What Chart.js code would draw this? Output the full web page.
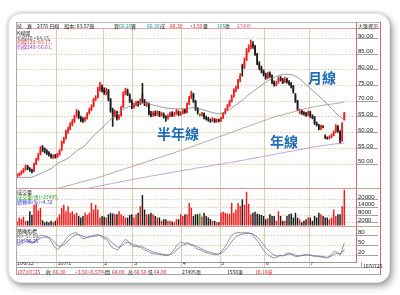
<!DOCTYPE html>
<html>
<head>
<meta charset="utf-8">
<script src="https://cdn.jsdelivr.net/npm/chart.js@4.4.0/dist/chart.umd.min.js"></script>
<style>
  body { margin: 0; width: 400px; height: 295px; background: #fff; position: relative; overflow: hidden;
         font-family: "Noto Sans CJK TC", "Noto Sans", sans-serif; }
  .card { position: absolute; left: 8px; top: 13px; width: 382px; height: 270px; background: #fff;
          border-radius: 13px; border: 1px solid #e4e4e4; box-sizing: border-box;
          box-shadow: 0 0 4px rgba(0,0,0,.25), 3px 4px 7px rgba(0,0,0,.3); }
  canvas { position: absolute; left: 0; top: 0; }
  .t { position: absolute; font-size: 5px; line-height: 5px; white-space: pre; color: #222; }
  .h { position: absolute; height: 1px; }
  .v { position: absolute; width: 1px; }
  .big { position: absolute; font-size: 14px; line-height: 14px; font-weight: bold; color: #1d6cb6; white-space: pre; }
</style>
</head>
<body>
<div class="card"></div>
<canvas id="c" width="400" height="295"></canvas>

<!-- frame -->
<div class="h" style="left:16px;top:22px;width:365px;background:#b8b8b8"></div>
<div class="h" style="left:16px;top:28px;width:365px;background:#e3a6a6"></div>
<div class="h" style="left:16px;top:188px;width:365px;background:#d59a9a"></div>
<div class="h" style="left:16px;top:226px;width:365px;background:#d59a9a"></div>
<div class="h" style="left:16px;top:267px;width:365px;background:#a8a8a8"></div>
<div class="h" style="left:16px;top:274px;width:365px;background:#a8a8a8"></div>
<div class="v" style="left:16px;top:22px;height:253px;background:#a8a8a8"></div>
<div class="v" style="left:380px;top:22px;height:253px;background:#d46a6a"></div>
<div class="v" style="left:356px;top:22px;height:7px;background:#d46a6a"></div>
<div class="v" style="left:361px;top:262px;height:5px;background:#a8a8a8"></div>

<!-- header row -->
<div class="t" style="left:17px;top:23px">技　嘉　2376 日線　股本: 63.57億</div>
<div class="t" style="left:114px;top:23px">買</div>
<div class="t" style="left:119px;top:23px;color:#1a9e9e">66.20</div>
<div class="t" style="left:131px;top:23px">賣</div>
<div class="t" style="left:147px;top:23px;color:#1a9e9e">66.30</div>
<div class="t" style="left:160px;top:23px">成</div>
<div class="t" style="left:170px;top:23px;color:#e02020">66.30</div>
<div class="t" style="left:190px;top:23px;color:#e02020">+3.50</div>
<div class="t" style="left:203px;top:23px">量</div>
<div class="t" style="left:217px;top:23px;color:#1a9e9e">165</div>
<div class="t" style="left:225px;top:23px">張</div>
<div class="t" style="left:237px;top:23px;color:#d060a0">27495</div>
<div class="t" style="left:358px;top:23px">大盤資訊</div>

<!-- price legend -->
<div class="t" style="left:17px;top:30px">K線圖</div>
<div class="t" style="left:17px;top:34.5px;color:#555">均線20 =64.15,</div>
<div class="t" style="left:17px;top:39px;color:#d03a3a">均線120=69.77,</div>
<div class="t" style="left:17px;top:43.5px;color:#a040c0">均線240=56.61,</div>

<!-- volume legend -->
<div class="t" style="left:17px;top:189px">成交量</div>
<div class="t" style="left:17px;top:194px;color:#20a020">成交量(張)=27495,</div>
<div class="t" style="left:17px;top:199px;color:#3a3ad0">週轉率(%)=4.32</div>

<!-- KD legend -->
<div class="t" style="left:17px;top:227.5px">隨機指標</div>
<div class="t" style="left:17px;top:232.5px;color:#555">K9=57.80,</div>
<div class="t" style="left:17px;top:237.5px;color:#3a3ad0">D9=38.25</div>

<!-- date box and info row -->
<div class="t" style="left:363px;top:263px">1070725</div>
<div class="t" style="left:17px;top:268.5px;color:#e02020">107/07/25</div>
<div class="t" style="left:46px;top:268.5px">收</div>
<div class="t" style="left:53px;top:268.5px;color:#e02020">66.30</div>
<div class="t" style="left:75px;top:268.5px;color:#e02020">+3.50</div>
<div class="t" style="left:88px;top:268.5px;color:#e02020">+5.57%</div>
<div class="t" style="left:105px;top:268.5px">開</div>
<div class="t" style="left:112px;top:268.5px;color:#e02020">64.00</div>
<div class="t" style="left:128px;top:268.5px">高</div>
<div class="t" style="left:134px;top:268.5px;color:#e02020">66.50</div>
<div class="t" style="left:148px;top:268.5px">低</div>
<div class="t" style="left:154px;top:268.5px;color:#e02020">64.00</div>
<div class="t" style="left:182px;top:268.5px">27495張</div>
<div class="t" style="left:227px;top:268.5px">1558筆</div>
<div class="t" style="left:255px;top:268.5px;color:#e02020">18.16億</div>

<!-- annotations -->
<div class="big" style="left:308px;top:70px">月線</div>
<div class="big" style="left:157px;top:126px">半年線</div>
<div class="big" style="left:270px;top:134px">年線</div>

<script>
const opens = [46.0,46.6,46.9,47.4,48.3,49.3,48.6,48.1,47.8,50.1,
  51.6,53.2,55.3,54.8,54.2,53.6,53.0,52.2,52.8,52.4,
  53.0,54.5,57.2,58.2,60.5,61.2,62.8,63.6,65.2,66.6,
  64.9,64.2,63.9,64.6,66.2,67.4,68.5,70.8,71.2,73.9,
  74.6,73.6,72.6,73.4,70.6,67.2,65.3,66.5,64.6,65.4,
  68.3,72.6,73.5,72.0,70.1,68.2,68.9,69.6,69.2,72.5,
  70.1,68.8,69.2,66.2,65.6,66.3,65.9,66.4,65.6,66.0,
  65.0,64.7,65.5,66.3,65.6,66.1,66.7,65.9,66.3,67.1,
  66.6,69.2,71.2,72.3,70.0,67.6,65.6,65.7,66.0,64.9,
  64.6,64.0,63.9,64.2,63.7,64.0,63.9,64.7,66.1,67.3,
  68.6,70.0,71.6,73.6,74.2,76.6,81.2,80.7,83.2,86.2,
  87.1,88.2,87.4,85.0,82.2,80.6,79.6,78.6,77.6,78.9,
  78.1,76.0,75.3,76.0,77.3,76.9,76.2,77.0,76.2,75.6,
  74.8,72.0,70.0,66.3,66.9,66.3,66.0,65.7,66.5,65.3,
  64.8,63.0,62.4,61.3,62.0,59.0,58.4,58.2,58.7,59.2,
  60.3,62.0,60.4,57.6,64.0];
const closes = [46.5,46.8,47.5,48.2,49.2,48.5,48.0,47.6,50.0,51.5,
  53.0,55.0,54.6,54.0,53.5,53.0,52.3,52.6,52.3,53.0,
  54.2,57.0,58.0,60.3,61.0,62.6,63.5,65.0,66.8,64.8,
  64.0,63.8,64.5,66.0,67.2,68.3,70.5,71.0,73.8,74.5,
  73.5,72.8,73.6,70.5,67.0,65.5,66.6,64.5,65.2,68.0,
  72.5,73.5,72.2,70.0,68.0,68.8,69.5,69.0,70.2,70.0,
  69.0,69.3,66.0,65.5,66.2,65.8,66.5,65.5,66.0,65.0,
  64.6,65.4,66.2,65.5,66.0,66.8,65.8,66.2,67.0,66.5,
  69.0,71.0,72.5,70.0,67.5,66.3,65.6,66.0,64.8,64.5,
  64.0,63.8,64.3,63.6,64.0,63.8,64.6,66.0,67.2,68.5,
  69.8,71.5,73.5,74.0,76.5,78.0,80.5,83.0,86.0,87.0,
  88.0,87.5,85.0,82.0,80.5,79.5,78.5,77.5,78.8,78.0,
  76.0,75.2,75.8,77.2,76.8,76.0,77.0,76.2,75.5,74.6,
  73.0,70.0,67.5,66.8,66.2,66.0,65.6,66.4,65.2,64.8,
  63.0,62.5,61.2,62.0,61.8,58.5,58.2,58.6,59.2,60.2,
  62.0,60.5,57.5,62.8,66.3];
const highs = [46.9,47.2,47.9,48.6,49.8,49.6,48.9,48.4,50.3,51.9,
  53.4,55.6,55.9,55.2,54.6,54.0,53.3,53.0,53.1,53.4,
  54.6,57.4,58.6,60.8,61.8,63.2,64.2,65.6,67.4,67.0,
  65.3,64.8,65.0,66.4,67.8,68.9,71.0,71.8,74.5,76.0,
  75.2,74.3,74.2,73.8,70.9,67.8,67.2,66.9,65.8,68.4,
  73.0,74.2,73.9,72.4,70.5,69.4,70.1,70.0,70.8,75.7,
  70.6,69.8,69.5,66.8,66.7,66.9,67.0,66.8,66.5,66.3,
  65.4,65.8,66.6,66.7,66.5,67.4,67.0,66.7,67.5,67.4,
  69.5,71.6,73.2,72.6,70.3,68.0,66.0,66.5,66.3,65.3,
  64.9,64.4,64.8,64.5,64.4,64.3,65.0,66.4,67.7,69.0,
  70.3,72.0,74.0,74.8,77.0,78.8,81.8,83.8,86.8,88.0,
  89.5,89.0,87.8,85.3,82.6,81.2,80.0,79.0,79.3,79.4,
  78.4,76.5,76.3,77.8,77.9,77.3,77.6,77.4,76.6,76.0,
  75.1,72.5,70.3,67.5,67.3,66.7,66.5,66.9,66.8,65.7,
  65.2,63.4,62.7,62.4,62.3,59.3,58.7,59.0,59.6,60.6,
  62.6,62.3,60.7,63.2,66.5];
const lows = [45.8,46.2,46.6,47.2,48.0,48.2,47.7,47.2,47.6,49.8,
  51.2,52.9,54.0,53.5,53.0,52.5,51.9,51.8,51.9,52.1,
  52.8,54.3,56.6,57.9,59.8,60.9,62.2,63.2,64.9,64.4,
  63.5,63.3,63.6,64.3,65.9,67.0,68.2,70.2,71.0,73.2,
  72.9,72.2,72.0,70.1,66.5,62.0,64.9,64.0,64.2,65.2,
  68.0,72.0,71.8,69.6,67.6,67.8,68.5,68.4,68.9,69.6,
  68.6,68.3,65.6,65.0,65.2,65.4,65.5,65.1,65.2,64.6,
  63.6,64.3,65.1,65.1,65.2,65.8,65.4,65.5,66.0,66.1,
  66.3,68.9,70.8,69.6,67.1,65.9,65.2,65.3,64.4,64.0,
  63.6,63.3,63.5,63.2,63.3,63.4,63.6,64.5,65.9,67.0,
  68.3,69.7,71.3,73.0,73.9,76.2,78.0,80.4,82.9,85.6,
  86.6,86.8,84.6,81.6,80.0,79.0,78.0,77.0,77.2,77.6,
  75.6,74.8,74.9,75.7,76.4,75.6,75.9,75.8,75.1,74.2,
  72.6,69.6,67.0,66.0,65.8,65.6,65.2,65.4,64.8,64.4,
  62.6,62.1,60.9,61.0,61.5,58.1,57.9,58.0,58.4,59.0,
  60.0,60.1,56.6,57.2,64.0];
const volumes = [3200,6200,5000,6800,3200,3700,11000,8000,16000,17000,
  11500,13500,4000,2500,3000,2500,3700,2500,3700,6000,
  8600,13600,16000,11000,14800,9900,11000,8600,9900,7400,
  6200,7400,9900,8000,9900,17300,12300,16000,12300,6200,
  7400,6800,6200,8600,9900,9300,8600,8600,11000,8600,
  7400,6200,6200,8000,8600,6200,8600,9900,14800,23500,
  12300,8600,8600,9900,8600,7400,6200,6200,3700,4900,
  4900,3700,3700,3000,2500,4900,4900,8600,7400,8600,
  8600,17300,13600,7400,8600,8600,9300,7000,9900,7400,
  6200,5000,3700,3700,2500,2500,9900,10500,9900,9300,
  9000,17300,9900,12300,17300,15000,20200,16000,25900,16500,
  8600,9900,10500,9000,8600,8000,7400,4900,5500,8600,
  7400,7400,3700,11000,7400,3700,3700,7400,8600,9300,
  6200,9900,6200,4900,2500,3700,4900,6200,6200,3700,
  7400,6200,9900,8600,7400,6200,6200,4900,6200,12300,
  7400,8600,8600,14800,27495];
const ma20 = [45.7,45.7,45.7,45.7,45.8,45.8,45.8,45.8,46.1,46.4,
  46.7,47.0,47.3,47.6,47.9,48.2,48.5,49.0,49.6,50.2,
  50.6,50.9,51.2,51.5,51.9,52.4,53.0,53.6,54.2,54.7,
  55.0,55.4,56.0,56.7,57.5,58.3,59.0,59.7,60.3,60.9,
  61.5,62.2,62.9,63.6,64.3,64.9,65.5,66.0,66.5,67.0,
  67.4,67.8,68.1,68.4,68.7,68.9,69.1,69.2,69.3,69.3,
  69.3,69.3,69.2,69.0,68.8,68.6,68.5,68.3,68.1,68.0,
  67.9,67.8,67.7,67.7,67.6,67.6,67.6,67.6,67.6,67.7,
  67.7,67.8,67.9,68.0,67.9,67.8,67.6,67.4,67.2,67.0,
  66.8,66.6,66.4,66.2,66.1,66.0,66.1,66.3,66.6,67.0,
  67.4,67.9,68.4,68.8,69.3,69.8,70.3,70.9,71.5,72.1,
  72.6,73.1,73.6,74.1,74.6,75.1,75.6,76.0,76.5,76.9,
  77.3,77.6,77.9,78.2,78.4,78.5,78.6,78.6,78.6,78.5,
  78.3,78.0,77.6,77.1,76.5,75.9,75.3,74.7,74.1,73.5,
  72.9,72.3,71.7,71.1,70.5,69.8,69.1,68.4,67.7,67.0,
  66.3,65.7,65.1,64.6,64.15];
const ma120 = [38.6,38.8,39.0,39.2,39.4,39.5,39.7,39.9,40.1,40.3,
  40.5,40.7,40.9,41.1,41.3,41.5,41.7,41.9,42.1,42.3,
  42.4,42.6,42.8,43.0,43.2,43.3,43.5,43.7,43.9,44.1,
  44.3,44.4,44.6,44.8,45.0,45.1,45.3,45.5,45.7,45.9,
  46.1,46.3,46.6,46.8,47.0,47.2,47.5,47.7,47.9,48.1,
  48.3,48.6,48.8,49.0,49.2,49.4,49.7,49.9,50.1,50.3,
  50.5,50.8,51.0,51.2,51.4,51.7,51.9,52.1,52.3,52.5,
  52.8,53.0,53.2,53.4,53.6,53.9,54.1,54.3,54.5,54.8,
  55.0,55.2,55.5,55.7,56.0,56.2,56.5,56.7,57.0,57.2,
  57.4,57.7,57.9,58.2,58.4,58.7,58.9,59.2,59.4,59.6,
  59.9,60.1,60.4,60.6,60.9,61.1,61.4,61.6,61.8,62.1,
  62.3,62.6,62.8,63.1,63.3,63.6,63.8,64.0,64.3,64.5,
  64.8,65.0,65.2,65.4,65.5,65.7,65.9,66.1,66.2,66.4,
  66.6,66.8,67.0,67.1,67.3,67.5,67.6,67.8,68.0,68.1,
  68.3,68.4,68.5,68.6,68.7,68.8,68.9,69.0,69.1,69.2,
  69.3,69.4,69.5,69.6,69.77];
const ma240 = [38.3,38.4,38.5,38.6,38.8,38.9,39.0,39.1,39.2,39.4,
  39.5,39.6,39.7,39.8,40.0,40.1,40.2,40.3,40.4,40.6,
  40.7,40.8,40.9,41.0,41.2,41.3,41.4,41.5,41.6,41.8,
  41.9,42.0,42.1,42.3,42.4,42.5,42.7,42.8,42.9,43.1,
  43.2,43.3,43.5,43.6,43.7,43.9,44.0,44.1,44.3,44.4,
  44.5,44.7,44.8,44.9,45.1,45.2,45.3,45.4,45.6,45.7,
  45.8,45.9,46.1,46.2,46.3,46.4,46.5,46.7,46.8,46.9,
  47.0,47.1,47.3,47.4,47.5,47.6,47.7,47.9,48.0,48.1,
  48.2,48.3,48.4,48.5,48.7,48.8,48.9,49.0,49.1,49.2,
  49.3,49.5,49.6,49.7,49.8,49.9,50.0,50.1,50.3,50.4,
  50.5,50.6,50.7,50.8,51.0,51.1,51.2,51.3,51.5,51.6,
  51.7,51.8,52.0,52.1,52.2,52.3,52.5,52.6,52.7,52.8,
  53.0,53.1,53.2,53.4,53.5,53.6,53.7,53.9,54.0,54.1,
  54.2,54.4,54.5,54.6,54.7,54.9,55.0,55.1,55.2,55.4,
  55.5,55.6,55.7,55.8,55.9,56.0,56.1,56.2,56.3,56.4,
  56.45,56.5,56.55,56.6,56.61];
const kLine = [55,58,62,66,70,66,60,55,60,68,
  75,80,80,78,76,72,62,52,42,38,
  42,52,58,68,76,82,85,87,88,82,
  75,70,70,74,76,78,80,81,82,80,
  74,70,68,60,50,42,40,36,40,52,
  62,68,64,56,48,46,47,45,44,40,
  36,34,30,27,25,24,24,22,22,20,
  19,20,24,30,38,48,55,60,58,56,
  58,54,50,48,42,38,37,34,30,28,
  27,25,23,22,22,24,30,38,47,58,
  70,80,85,87,88,88,87,88,88,87,
  85,80,72,64,55,45,36,28,22,18,
  14,12,13,18,20,18,22,27,27,24,
  20,16,16,18,20,22,22,21,20,18,
  17,17,16,15,14,12,13,16,24,30,
  33,26,20,38,57.8];
const dLine = [50,52,55,58,62,63,62,60,60,63,
  67,71,74,75,75,74,70,64,57,50,
  47,49,52,57,63,70,75,79,82,82,
  80,77,75,74,75,76,77,78,79,80,
  78,75,73,69,63,56,51,46,44,47,
  52,57,59,58,55,52,50,48,47,45,
  42,39,36,33,30,28,27,25,24,23,
  22,21,22,25,29,35,42,48,51,53,
  55,55,53,51,48,45,42,39,36,33,
  31,29,27,25,24,24,26,30,36,43,
  52,61,69,75,79,82,84,85,86,86,
  86,84,80,75,68,60,52,44,37,31,
  25,21,18,18,19,19,20,22,24,24,
  23,21,19,19,19,20,21,21,21,20,
  19,18,18,17,16,15,14,15,18,22,
  26,26,24,29,38.25];

const emptyDays = 5;   // blank slots after the last session
const monthIdx = [0, 19, 41, 55, 78, 96, 117, 138];
const monthText = ['106/12', '107/1', '2', '3', '4', '5', '6', '7'];
const priceTicks = [50, 55, 60, 65, 70, 75, 80, 85, 90];
const volTicks = [2000, 8000, 14000, 20000];
const kdTicks = [20, 50, 80];

const UP = '#f01c1c', DOWN = '#1c1c1c', FLAT = '#22a022';
const candleColors = opens.map((o, i) => closes[i] > o ? UP : closes[i] < o ? DOWN : FLAT);
const labels = Array.from({ length: opens.length + emptyDays }, (_, i) => i);

const tickFont = { family: 'Liberation Sans', size: 6, lineHeight: 1 };
const rightAxis = (weight, min, max, list, fmt) => ({
  type: 'linear', position: 'right', stack: 'panels', stackWeight: weight,
  min: min, max: max,
  afterBuildTicks: s => { s.ticks = list.map(v => ({ value: v })); },
  afterFit: s => { s.width = 24; },
  ticks: { callback: fmt, autoSkip: false, padding: -20, labelOffset: -2.5, color: '#222', font: tickFont },
  grid: { color: '#d6c09e', lineWidth: 0.8, tickColor: '#8a8a8a', tickLength: 22, tickWidth: 0.8 },
  border: { color: '#d46a6a', width: 1, dash: [1.5, 1.5] }
});

new Chart(document.getElementById('c'), {
  data: {
    labels: labels,
    datasets: [
      { type: 'line', data: ma20, borderColor: '#7d7d7d', borderWidth: 0.8, pointRadius: 0, yAxisID: 'y', order: 1 },
      { type: 'line', data: ma120, borderColor: '#b08c8c', borderWidth: 0.8, pointRadius: 0, yAxisID: 'y', order: 1 },
      { type: 'line', data: ma240, borderColor: '#b48ccc', borderWidth: 0.8, pointRadius: 0, yAxisID: 'y', order: 1 },
      { type: 'bar', data: highs.map((h, i) => [lows[i], h]), backgroundColor: candleColors,
        barThickness: 1, grouped: false, yAxisID: 'y', order: 3 },
      { type: 'bar', data: opens.map((o, i) => [o, closes[i]]), backgroundColor: candleColors,
        barPercentage: 0.75, categoryPercentage: 1, minBarLength: 1, grouped: false, yAxisID: 'y', order: 2 },
      { type: 'bar', data: volumes, backgroundColor: candleColors,
        barPercentage: 0.7, categoryPercentage: 1, grouped: false, yAxisID: 'yv', order: 2 },
      { type: 'line', data: kLine, borderColor: '#7a7a7a', borderWidth: 0.8, pointRadius: 0, yAxisID: 'yk', order: 1 },
      { type: 'line', data: dLine, borderColor: '#6a6ab8', borderWidth: 0.8, pointRadius: 0, yAxisID: 'yk', order: 1 }
    ]
  },
  options: {
    responsive: false,
    animation: false,
    layout: { padding: { left: 16, right: 20, top: 29, bottom: 28 } },
    plugins: { legend: { display: false }, tooltip: { enabled: false } },
    scales: {
      x: {
        type: 'category', offset: true,
        afterFit: s => { s.height = 5; },
        grid: { offset: true, color: c => monthIdx.includes(c.index) ? '#dccdb4' : 'transparent',
                lineWidth: 1, tickLength: 5 },
        border: { color: '#9a9a9a' },
        ticks: { autoSkip: false, maxRotation: 0, minRotation: 0, align: 'start', padding: -6,
                 color: '#333', font: { family: 'Liberation Sans', size: 5.5, lineHeight: 1 },
                 callback: (v, i) => monthIdx.includes(i) ? monthText[monthIdx.indexOf(i)] : '' }
      },
      y: rightAxis(159, 42.4, 93.0, priceTicks, v => v.toFixed(2)),
      yv: rightAxis(38.5, -770, 28850, volTicks, v => v),
      yk: rightAxis(35.5, 0, 106.5, kdTicks, v => v)
    }
  }
});
</script>
</body>
</html>
